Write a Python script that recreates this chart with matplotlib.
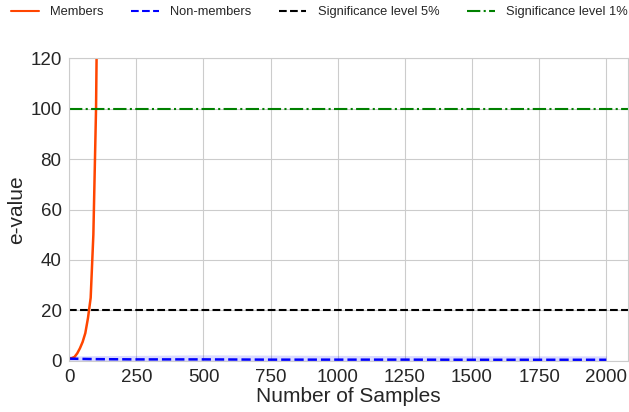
import matplotlib
matplotlib.use("Agg")
import matplotlib.pyplot as plt
import seaborn as sns

# members: e-value grows fast with the number of samples
MEM_X = [0, 10, 20, 30, 40, 50, 60, 70, 80, 90, 100, 110]
MEM_Y = [1.0, 1.1, 1.6, 3.0, 5.0, 7.5, 11.0, 17.0, 25.0, 50.0, 100.0, 200.0]

# non-members: stays near 1, with a shaded spread
NON_X = [0, 50, 100, 250, 500, 750, 1000, 1250, 1500, 1750, 2000]
NON_Y = [0.9, 0.8, 0.7, 0.6, 0.6, 0.5, 0.5, 0.5, 0.45, 0.45, 0.45]
NON_LO = [-0.5, -0.6, -0.6, -0.7, -0.7, -0.7, -0.7, -0.7, -0.7, -0.7, -0.7]
NON_HI = [2.0, 2.0, 2.1, 2.2, 2.4, 2.3, 2.2, 2.1, 2.0, 2.0, 2.0]

SIG5 = 20
SIG1 = 100

sns.set_style("whitegrid")
plt.rcParams["font.family"] = ["Liberation Sans", "DejaVu Sans"]

fig = plt.figure(figsize=(6.29, 4.12), dpi=100)
ax = fig.add_axes([0.11, 0.124, 0.888, 0.735])

ax.plot(MEM_X, MEM_Y, color="#FF4500", lw=1.8, label="Members")
ax.fill_between(NON_X, NON_LO, NON_HI, color="blue", alpha=0.15, lw=0)
ax.plot(NON_X, NON_Y, color="blue", ls="--", lw=1.8, label="Non-members")
ax.axhline(SIG5, color="black", ls="--", lw=1.5, label="Significance level 5%")
ax.axhline(SIG1, color="green", ls="-.", lw=1.5, label="Significance level 1%")

ax.set_xlim(0, 2080)
ax.set_ylim(0, 120)
ax.set_xticks(range(0, 2001, 250))
ax.set_yticks(range(0, 121, 20))
ax.tick_params(axis="both", labelsize=13.5, pad=2)
ax.set_xlabel("Number of Samples", fontsize=15, labelpad=1)
ax.set_ylabel("e-value", fontsize=15, labelpad=3)

leg = fig.legend(loc="upper left", ncol=4, frameon=False, fontsize=9.3,
                 bbox_to_anchor=(0.01, 0.997), columnspacing=2.15,
                 handlelength=2.1, handletextpad=0.9, borderaxespad=0.1,
                 borderpad=0.3)
for h in leg.legend_handles:
    h.set_linewidth(1.5)

fig.savefig("out.png", dpi=100)
